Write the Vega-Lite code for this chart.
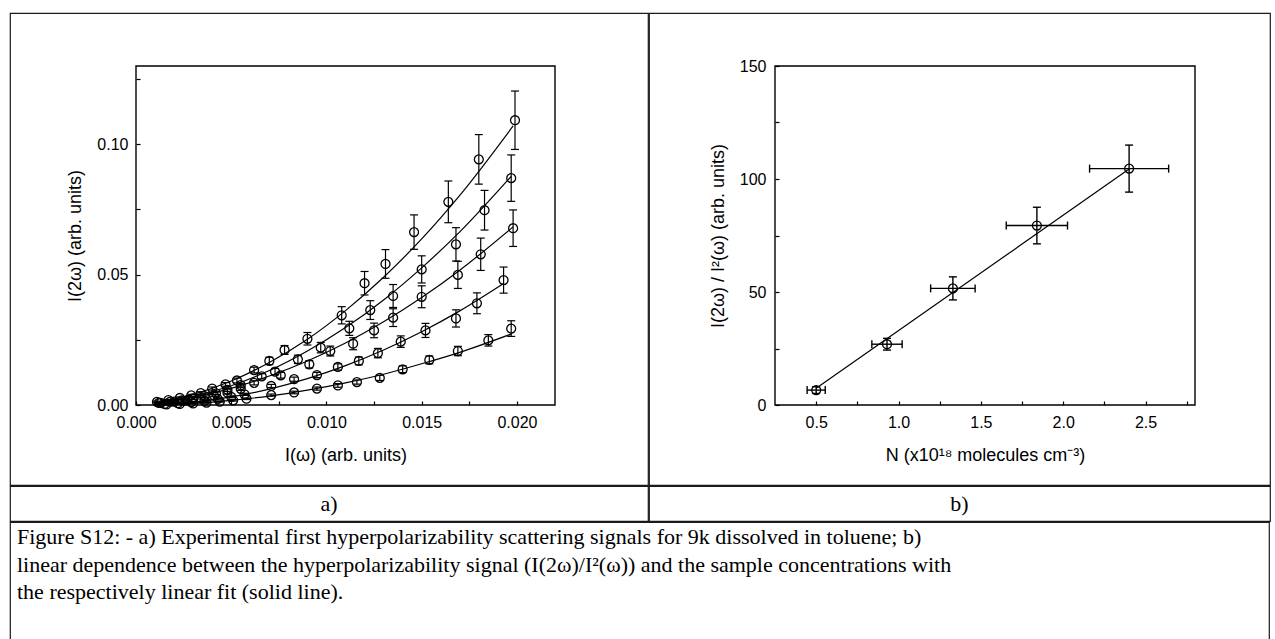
{
  "$schema": "https://vega.github.io/schema/vega-lite/v6.json",
  "background": "white",
  "padding": {"left": 9, "top": 12, "right": 0, "bottom": 0},
  "spacing": -2,
  "config": {
    "view": {"stroke": "#1a1a1a", "strokeWidth": 1.2},
    "font": "Liberation Sans"
  },
  "datasets": {
    "ptsA": [
      {"s": 1, "x": 0.0011, "y": 0.0012, "e": 0.0003},
      {"s": 1, "x": 0.0017, "y": 0.0019, "e": 0.0003},
      {"s": 1, "x": 0.0023, "y": 0.0027, "e": 0.0004},
      {"s": 1, "x": 0.0029, "y": 0.0037, "e": 0.0004},
      {"s": 1, "x": 0.0034, "y": 0.0046, "e": 0.0005},
      {"s": 1, "x": 0.0040, "y": 0.0063, "e": 0.0006},
      {"s": 1, "x": 0.0047, "y": 0.0079, "e": 0.0007},
      {"s": 1, "x": 0.0053, "y": 0.0094, "e": 0.0009},
      {"s": 1, "x": 0.0062, "y": 0.0134, "e": 0.0011},
      {"s": 1, "x": 0.0070, "y": 0.0169, "e": 0.0014},
      {"s": 1, "x": 0.0078, "y": 0.0211, "e": 0.0017},
      {"s": 1, "x": 0.0090, "y": 0.0254, "e": 0.0024},
      {"s": 1, "x": 0.0108, "y": 0.0344, "e": 0.0033},
      {"s": 1, "x": 0.0120, "y": 0.0467, "e": 0.0045},
      {"s": 1, "x": 0.0131, "y": 0.0541, "e": 0.0055},
      {"s": 1, "x": 0.0146, "y": 0.0663, "e": 0.0066},
      {"s": 1, "x": 0.0164, "y": 0.0779, "e": 0.0080},
      {"s": 1, "x": 0.0180, "y": 0.0942, "e": 0.0095},
      {"s": 1, "x": 0.0199, "y": 0.1092, "e": 0.0112},
      {"s": 2, "x": 0.0012, "y": 0.0008, "e": 0.0003},
      {"s": 2, "x": 0.0018, "y": 0.0013, "e": 0.0003},
      {"s": 2, "x": 0.0024, "y": 0.0018, "e": 0.0003},
      {"s": 2, "x": 0.0030, "y": 0.0025, "e": 0.0004},
      {"s": 2, "x": 0.0036, "y": 0.0034, "e": 0.0004},
      {"s": 2, "x": 0.0042, "y": 0.0045, "e": 0.0005},
      {"s": 2, "x": 0.0048, "y": 0.0058, "e": 0.0006},
      {"s": 2, "x": 0.0055, "y": 0.0076, "e": 0.0007},
      {"s": 2, "x": 0.0066, "y": 0.0110, "e": 0.0010},
      {"s": 2, "x": 0.0073, "y": 0.0128, "e": 0.0012},
      {"s": 2, "x": 0.0085, "y": 0.0175, "e": 0.0016},
      {"s": 2, "x": 0.0097, "y": 0.0220, "e": 0.0020},
      {"s": 2, "x": 0.0112, "y": 0.0294, "e": 0.0027},
      {"s": 2, "x": 0.0123, "y": 0.0364, "e": 0.0036},
      {"s": 2, "x": 0.0135, "y": 0.0418, "e": 0.0044},
      {"s": 2, "x": 0.0150, "y": 0.0520, "e": 0.0052},
      {"s": 2, "x": 0.0168, "y": 0.0616, "e": 0.0064},
      {"s": 2, "x": 0.0183, "y": 0.0747, "e": 0.0076},
      {"s": 2, "x": 0.0197, "y": 0.0870, "e": 0.0089},
      {"s": 3, "x": 0.0013, "y": 0.0008, "e": 0.0002},
      {"s": 3, "x": 0.0020, "y": 0.0013, "e": 0.0002},
      {"s": 3, "x": 0.0027, "y": 0.0019, "e": 0.0003},
      {"s": 3, "x": 0.0034, "y": 0.0026, "e": 0.0003},
      {"s": 3, "x": 0.0041, "y": 0.0036, "e": 0.0004},
      {"s": 3, "x": 0.0048, "y": 0.0047, "e": 0.0005},
      {"s": 3, "x": 0.0055, "y": 0.0062, "e": 0.0006},
      {"s": 3, "x": 0.0062, "y": 0.0085, "e": 0.0008},
      {"s": 3, "x": 0.0076, "y": 0.0114, "e": 0.0011},
      {"s": 3, "x": 0.0091, "y": 0.0156, "e": 0.0014},
      {"s": 3, "x": 0.0102, "y": 0.0207, "e": 0.0019},
      {"s": 3, "x": 0.0114, "y": 0.0235, "e": 0.0023},
      {"s": 3, "x": 0.0125, "y": 0.0286, "e": 0.0028},
      {"s": 3, "x": 0.0135, "y": 0.0335, "e": 0.0034},
      {"s": 3, "x": 0.0150, "y": 0.0415, "e": 0.0042},
      {"s": 3, "x": 0.0169, "y": 0.0499, "e": 0.0052},
      {"s": 3, "x": 0.0181, "y": 0.0578, "e": 0.0062},
      {"s": 3, "x": 0.0198, "y": 0.0678, "e": 0.0070},
      {"s": 4, "x": 0.0015, "y": 0.0004, "e": 0.0002},
      {"s": 4, "x": 0.0022, "y": 0.0007, "e": 0.0002},
      {"s": 4, "x": 0.0029, "y": 0.0011, "e": 0.0002},
      {"s": 4, "x": 0.0036, "y": 0.0016, "e": 0.0003},
      {"s": 4, "x": 0.0043, "y": 0.0023, "e": 0.0003},
      {"s": 4, "x": 0.0050, "y": 0.0031, "e": 0.0003},
      {"s": 4, "x": 0.0057, "y": 0.0041, "e": 0.0004},
      {"s": 4, "x": 0.0071, "y": 0.0073, "e": 0.0006},
      {"s": 4, "x": 0.0083, "y": 0.0099, "e": 0.0008},
      {"s": 4, "x": 0.0095, "y": 0.0115, "e": 0.0010},
      {"s": 4, "x": 0.0106, "y": 0.0146, "e": 0.0012},
      {"s": 4, "x": 0.0117, "y": 0.0169, "e": 0.0015},
      {"s": 4, "x": 0.0127, "y": 0.0199, "e": 0.0018},
      {"s": 4, "x": 0.0139, "y": 0.0243, "e": 0.0022},
      {"s": 4, "x": 0.0152, "y": 0.0286, "e": 0.0027},
      {"s": 4, "x": 0.0168, "y": 0.0332, "e": 0.0033},
      {"s": 4, "x": 0.0179, "y": 0.0390, "e": 0.0040},
      {"s": 4, "x": 0.0193, "y": 0.0479, "e": 0.0050},
      {"s": 5, "x": 0.0016, "y": 0.0002, "e": 0.0002},
      {"s": 5, "x": 0.0023, "y": 0.0004, "e": 0.0002},
      {"s": 5, "x": 0.0030, "y": 0.0006, "e": 0.0002},
      {"s": 5, "x": 0.0037, "y": 0.0009, "e": 0.0002},
      {"s": 5, "x": 0.0044, "y": 0.0013, "e": 0.0002},
      {"s": 5, "x": 0.0051, "y": 0.0018, "e": 0.0003},
      {"s": 5, "x": 0.0058, "y": 0.0024, "e": 0.0003},
      {"s": 5, "x": 0.0071, "y": 0.0038, "e": 0.0004},
      {"s": 5, "x": 0.0083, "y": 0.0048, "e": 0.0005},
      {"s": 5, "x": 0.0095, "y": 0.0063, "e": 0.0006},
      {"s": 5, "x": 0.0106, "y": 0.0075, "e": 0.0007},
      {"s": 5, "x": 0.0116, "y": 0.0088, "e": 0.0008},
      {"s": 5, "x": 0.0128, "y": 0.0104, "e": 0.0010},
      {"s": 5, "x": 0.0140, "y": 0.0137, "e": 0.0013},
      {"s": 5, "x": 0.0154, "y": 0.0173, "e": 0.0015},
      {"s": 5, "x": 0.0169, "y": 0.0207, "e": 0.0018},
      {"s": 5, "x": 0.0185, "y": 0.0248, "e": 0.0022},
      {"s": 5, "x": 0.0197, "y": 0.0293, "e": 0.0030}
    ],
    "fitA": [
      {"s": 1, "x": 0.001, "y": 0.0009},
      {"s": 1, "x": 0.003, "y": 0.0041},
      {"s": 1, "x": 0.005, "y": 0.0092},
      {"s": 1, "x": 0.007, "y": 0.0163},
      {"s": 1, "x": 0.009, "y": 0.0252},
      {"s": 1, "x": 0.011, "y": 0.0362},
      {"s": 1, "x": 0.013, "y": 0.0490},
      {"s": 1, "x": 0.015, "y": 0.0637},
      {"s": 1, "x": 0.017, "y": 0.0804},
      {"s": 1, "x": 0.0198, "y": 0.1070},
      {"s": 2, "x": 0.001, "y": 0.0007},
      {"s": 2, "x": 0.003, "y": 0.0033},
      {"s": 2, "x": 0.005, "y": 0.0074},
      {"s": 2, "x": 0.007, "y": 0.0132},
      {"s": 2, "x": 0.009, "y": 0.0207},
      {"s": 2, "x": 0.011, "y": 0.0297},
      {"s": 2, "x": 0.013, "y": 0.0403},
      {"s": 2, "x": 0.015, "y": 0.0526},
      {"s": 2, "x": 0.017, "y": 0.0664},
      {"s": 2, "x": 0.0197, "y": 0.0877},
      {"s": 3, "x": 0.001, "y": 0.0007},
      {"s": 3, "x": 0.003, "y": 0.0030},
      {"s": 3, "x": 0.005, "y": 0.0064},
      {"s": 3, "x": 0.007, "y": 0.0111},
      {"s": 3, "x": 0.009, "y": 0.0169},
      {"s": 3, "x": 0.011, "y": 0.0238},
      {"s": 3, "x": 0.013, "y": 0.0319},
      {"s": 3, "x": 0.015, "y": 0.0412},
      {"s": 3, "x": 0.017, "y": 0.0517},
      {"s": 3, "x": 0.0198, "y": 0.0683},
      {"s": 4, "x": 0.001, "y": 0.0002},
      {"s": 4, "x": 0.003, "y": 0.0011},
      {"s": 4, "x": 0.005, "y": 0.0031},
      {"s": 4, "x": 0.007, "y": 0.0061},
      {"s": 4, "x": 0.009, "y": 0.0101},
      {"s": 4, "x": 0.011, "y": 0.0151},
      {"s": 4, "x": 0.013, "y": 0.0211},
      {"s": 4, "x": 0.015, "y": 0.0281},
      {"s": 4, "x": 0.017, "y": 0.0361},
      {"s": 4, "x": 0.0193, "y": 0.0466},
      {"s": 5, "x": 0.001, "y": 0.0001},
      {"s": 5, "x": 0.003, "y": 0.0006},
      {"s": 5, "x": 0.005, "y": 0.0018},
      {"s": 5, "x": 0.007, "y": 0.0034},
      {"s": 5, "x": 0.009, "y": 0.0057},
      {"s": 5, "x": 0.011, "y": 0.0085},
      {"s": 5, "x": 0.013, "y": 0.0118},
      {"s": 5, "x": 0.015, "y": 0.0158},
      {"s": 5, "x": 0.017, "y": 0.0202},
      {"s": 5, "x": 0.0197, "y": 0.0272}
    ],
    "ptsB": [
      {"n": 0.50, "y": 6.6, "xe": 0.055, "ye": 1.5},
      {"n": 0.93, "y": 26.9, "xe": 0.092, "ye": 2.6},
      {"n": 1.33, "y": 51.6, "xe": 0.135, "ye": 5.1},
      {"n": 1.84, "y": 79.4, "xe": 0.186, "ye": 8.1},
      {"n": 2.40, "y": 104.6, "xe": 0.24, "ye": 10.4}
    ],
    "fitB": [
      {"n": 0.50, "y": 7.4},
      {"n": 2.40, "y": 104.4}
    ]
  },
  "vconcat": [
    {
      "spacing": -2,
      "hconcat": [
        {
          "width": 638,
          "height": 472,
          "layer": [
            {
              "data": {"values": [{}]},
              "mark": {"type": "rect", "fillOpacity": 0, "stroke": "black", "strokeWidth": 1.4},
              "encoding": {
                "x": {"datum": 0, "type": "quantitative", "title": "I(ω) (arb. units)", "scale": {"domain": [0, 0.022], "range": [126, 545], "nice": false, "zero": false}},
                "x2": {"datum": 0.022},
                "y": {"datum": 0, "type": "quantitative", "title": "I(2ω) (arb. units)", "scale": {"domain": [0, 0.13], "range": [392, 53], "nice": false, "zero": false}},
                "y2": {"datum": 0.13}
              }
            },
            {
              "data": {"name": "fitA"},
              "mark": {"type": "line", "color": "black", "strokeWidth": 1.2, "interpolate": "monotone"},
              "encoding": {
                "x": {"field": "x", "type": "quantitative", "title": "I(ω) (arb. units)", "scale": {"domain": [0, 0.022], "range": [126, 545], "nice": false, "zero": false}},
                "y": {"field": "y", "type": "quantitative", "title": "I(2ω) (arb. units)", "scale": {"domain": [0, 0.13], "range": [392, 53], "nice": false, "zero": false}},
                "detail": {"field": "s", "type": "nominal"}
              }
            },
            {
              "data": {"name": "ptsA"},
              "mark": {"type": "errorbar", "ticks": {"opacity": 1}, "size": 8, "thickness": 1.2, "color": "black"},
              "encoding": {
                "x": {"field": "x", "type": "quantitative", "title": "I(ω) (arb. units)", "scale": {"domain": [0, 0.022], "range": [126, 545], "nice": false, "zero": false}},
                "y": {"field": "y", "type": "quantitative", "title": "I(2ω) (arb. units)", "scale": {"domain": [0, 0.13], "range": [392, 53], "nice": false, "zero": false}},
                "yError": {"field": "e"}
              }
            },
            {
              "data": {"name": "ptsA"},
              "mark": {"type": "point", "shape": "circle", "filled": false, "size": 80, "strokeWidth": 1.3, "color": "black", "opacity": 1},
              "encoding": {
                "x": {
                  "field": "x", "type": "quantitative", "title": "I(ω) (arb. units)",
                  "scale": {"domain": [0, 0.022], "range": [126, 545], "nice": false, "zero": false},
                  "axis": {
                    "orient": "bottom", "offset": -80,
                    "values": [0, 0.0025, 0.005, 0.0075, 0.01, 0.0125, 0.015, 0.0175, 0.02],
                    "labelExpr": "round(datum.value*400) % 2 == 1 ? '' : format(datum.value, '.3f')",
                    "tickSize": -4,
                    "tickColor": "black", "tickWidth": 1.2, "domain": false, "grid": false,
                    "labelFont": "Liberation Sans", "labelFontSize": 16, "labelColor": "black", "labelPadding": 13,
                    "labelFlush": false, "labelOverlap": false,
                    "titleFont": "Liberation Sans", "titleFontSize": 18, "titleFontWeight": "normal", "titleColor": "black", "titlePadding": 16
                  }
                },
                "y": {
                  "field": "y", "type": "quantitative", "title": "I(2ω) (arb. units)",
                  "scale": {"domain": [0, 0.13], "range": [392, 53], "nice": false, "zero": false},
                  "axis": {
                    "orient": "left", "offset": -126,
                    "values": [0, 0.025, 0.05, 0.075, 0.1, 0.125],
                    "labelExpr": "round(datum.value*40) % 2 == 1 ? '' : format(datum.value, '.2f')",
                    "tickSize": -4,
                    "tickColor": "black", "tickWidth": 1.2, "domain": false, "grid": false,
                    "labelFont": "Liberation Sans", "labelFontSize": 16, "labelColor": "black", "labelPadding": 12,
                    "labelFlush": false, "labelOverlap": false,
                    "titleFont": "Liberation Sans", "titleFontSize": 18, "titleFontWeight": "normal", "titleColor": "black", "titlePadding": 12
                  }
                }
              }
            }
          ]
        },
        {
          "width": 621,
          "height": 472,
          "layer": [
            {
              "data": {"values": [{}]},
              "mark": {"type": "rect", "fillOpacity": 0, "stroke": "black", "strokeWidth": 1.4},
              "encoding": {
                "x": {"datum": 0.25, "type": "quantitative", "title": "N (x10¹⁸ molecules cm⁻³)", "scale": {"domain": [0.25, 2.8], "range": [126, 546], "nice": false, "zero": false}},
                "x2": {"datum": 2.8},
                "y": {"datum": 0, "type": "quantitative", "title": "I(2ω) / I²(ω) (arb. units)", "scale": {"domain": [0, 150], "range": [392, 53], "nice": false, "zero": false}},
                "y2": {"datum": 150}
              }
            },
            {
              "data": {"name": "fitB"},
              "mark": {"type": "line", "color": "black", "strokeWidth": 1.2},
              "encoding": {
                "x": {"field": "n", "type": "quantitative", "title": "N (x10¹⁸ molecules cm⁻³)", "scale": {"domain": [0.25, 2.8], "range": [126, 546], "nice": false, "zero": false}},
                "y": {"field": "y", "type": "quantitative", "title": "I(2ω) / I²(ω) (arb. units)", "scale": {"domain": [0, 150], "range": [392, 53], "nice": false, "zero": false}}
              }
            },
            {
              "data": {"name": "ptsB"},
              "mark": {"type": "errorbar", "ticks": {"opacity": 1}, "size": 8, "thickness": 1.4, "color": "black"},
              "encoding": {
                "x": {"field": "n", "type": "quantitative", "title": "N (x10¹⁸ molecules cm⁻³)", "scale": {"domain": [0.25, 2.8], "range": [126, 546], "nice": false, "zero": false}},
                "y": {"field": "y", "type": "quantitative", "title": "I(2ω) / I²(ω) (arb. units)", "scale": {"domain": [0, 150], "range": [392, 53], "nice": false, "zero": false}},
                "yError": {"field": "ye"}
              }
            },
            {
              "data": {"name": "ptsB"},
              "mark": {"type": "errorbar", "ticks": {"opacity": 1}, "size": 8, "thickness": 1.4, "color": "black"},
              "encoding": {
                "y": {"field": "y", "type": "quantitative", "title": "I(2ω) / I²(ω) (arb. units)", "scale": {"domain": [0, 150], "range": [392, 53], "nice": false, "zero": false}},
                "x": {"field": "n", "type": "quantitative", "title": "N (x10¹⁸ molecules cm⁻³)", "scale": {"domain": [0.25, 2.8], "range": [126, 546], "nice": false, "zero": false}},
                "xError": {"field": "xe"}
              }
            },
            {
              "data": {"name": "ptsB"},
              "mark": {"type": "point", "shape": "circle", "filled": false, "size": 80, "strokeWidth": 1.3, "color": "black", "opacity": 1},
              "encoding": {
                "x": {
                  "field": "n", "type": "quantitative", "title": "N (x10¹⁸ molecules cm⁻³)",
                  "scale": {"domain": [0.25, 2.8], "range": [126, 546], "nice": false, "zero": false},
                  "axis": {
                    "orient": "bottom", "offset": -80,
                    "values": [0.5, 0.75, 1, 1.25, 1.5, 1.75, 2, 2.25, 2.5, 2.75],
                    "labelExpr": "round(datum.value*4) % 2 == 1 ? '' : format(datum.value, '.1f')",
                    "tickSize": -4,
                    "tickColor": "black", "tickWidth": 1.2, "domain": false, "grid": false,
                    "labelFont": "Liberation Sans", "labelFontSize": 16, "labelColor": "black", "labelPadding": 13,
                    "labelFlush": false, "labelOverlap": false,
                    "titleFont": "Liberation Sans", "titleFontSize": 18, "titleFontWeight": "normal", "titleColor": "black", "titlePadding": 16
                  }
                },
                "y": {
                  "field": "y", "type": "quantitative", "title": "I(2ω) / I²(ω) (arb. units)",
                  "scale": {"domain": [0, 150], "range": [392, 53], "nice": false, "zero": false},
                  "axis": {
                    "orient": "left", "offset": -126,
                    "values": [0, 25, 50, 75, 100, 125, 150],
                    "labelExpr": "datum.value % 50 != 0 ? '' : format(datum.value, 'd')",
                    "tickSize": -4,
                    "tickColor": "black", "tickWidth": 1.2, "domain": false, "grid": false,
                    "labelFont": "Liberation Sans", "labelFontSize": 16, "labelColor": "black", "labelPadding": 13,
                    "labelFlush": false, "labelOverlap": false,
                    "titleFont": "Liberation Sans", "titleFontSize": 18, "titleFontWeight": "normal", "titleColor": "black", "titlePadding": 12
                  }
                }
              }
            }
          ]
        }
      ]
    },
    {
      "spacing": -2,
      "hconcat": [
        {
          "width": 638,
          "height": 35,
          "data": {"values": [{}]},
          "mark": {"type": "text", "text": "a)", "align": "center", "baseline": "middle", "font": "Liberation Serif", "fontSize": 22, "color": "black"},
          "encoding": {
            "x": {"datum": 0.5, "type": "quantitative", "scale": {"domain": [0, 1], "nice": false, "zero": false}, "axis": null},
            "y": {"datum": 0.5, "type": "quantitative", "scale": {"domain": [0, 1], "nice": false, "zero": false}, "axis": null}
          }
        },
        {
          "width": 621,
          "height": 35,
          "data": {"values": [{}]},
          "mark": {"type": "text", "text": "b)", "align": "center", "baseline": "middle", "font": "Liberation Serif", "fontSize": 22, "color": "black"},
          "encoding": {
            "x": {"datum": 0.5, "type": "quantitative", "scale": {"domain": [0, 1], "nice": false, "zero": false}, "axis": null},
            "y": {"datum": 0.5, "type": "quantitative", "scale": {"domain": [0, 1], "nice": false, "zero": false}, "axis": null}
          }
        }
      ]
    },
    {
      "width": 1259,
      "height": 130,
      "data": {"values": [{}]},
      "mark": {
        "type": "text",
        "text": [
          "Figure S12: - a) Experimental first hyperpolarizability scattering signals for 9k dissolved in toluene; b)",
          "linear dependence between the hyperpolarizability signal (I(2ω)/I²(ω)) and the sample concentrations with",
          "the respectively linear fit (solid line)."
        ],
        "dx": 7, "dy": 22, "align": "left", "baseline": "alphabetic", "lineHeight": 27.5,
        "font": "Liberation Serif", "fontSize": 22, "color": "black"
      },
      "encoding": {
        "x": {"datum": 0, "type": "quantitative", "scale": {"domain": [0, 1], "nice": false, "zero": false}, "axis": null},
        "y": {"datum": 1, "type": "quantitative", "scale": {"domain": [0, 1], "nice": false, "zero": false}, "axis": null}
      }
    }
  ]
}
